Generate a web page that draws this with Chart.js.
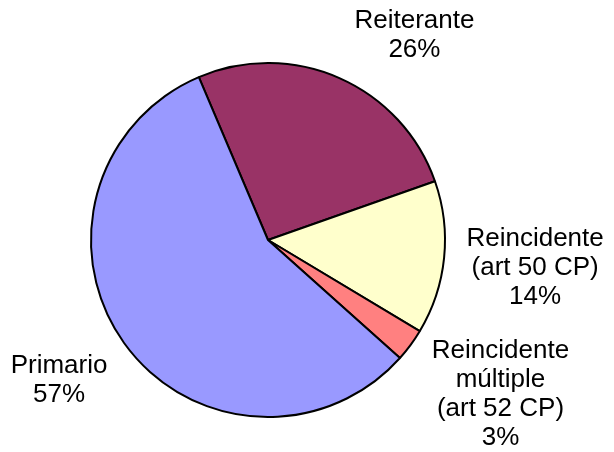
<!DOCTYPE html>
<html>
<head>
<meta charset="utf-8">
<script src="https://cdn.jsdelivr.net/npm/chart.js@4/dist/chart.umd.min.js"></script>
<style>
  html, body { margin: 0; padding: 0; background: #fff; }
</style>
</head>
<body>
<canvas id="chart" width="614" height="452"></canvas>
<script>
// datos
const categories = ['Reiterante', 'Reincidente (art 50 CP)', 'Reincidente múltiple (art 52 CP)', 'Primario'];
const values = [26, 14, 3, 57];
const labelLines = [
    ['Reiterante', '26%'],
    ['Reincidente', '(art 50 CP)', '14%'],
    ['Reincidente', 'múltiple', '(art 52 CP)', '3%'],
    ['Primario', '57%']
];
const colors = ['#993366', '#FFFFCC', '#FF8080', '#9999FF'];

// desplazamiento de cada etiqueta desde el punto medio del borde
const labelOffsets = [[75, -43], [91, 10], [90, 49], [-65, 37]];

const FONT = '26px "Liberation Sans", Arial, sans-serif';
const LINE_H = 29;

const outsideLabels = {
    id: 'outsideLabels',
    afterDraw(chart) {
        const ctx = chart.ctx;
        const meta = chart.getDatasetMeta(0);
        ctx.save();
        ctx.font = FONT;
        ctx.fillStyle = '#000';
        ctx.textAlign = 'center';
        ctx.textBaseline = 'middle';
        meta.data.forEach((arc, i) => {
            const mid = (arc.startAngle + arc.endAngle) / 2;
            const px = arc.x + Math.cos(mid) * arc.outerRadius + labelOffsets[i][0];
            const py = arc.y + Math.sin(mid) * arc.outerRadius + labelOffsets[i][1];
            const lines = labelLines[i];
            const top = py - (lines.length - 1) * LINE_H / 2;
            lines.forEach((t, k) => ctx.fillText(t, px, top + k * LINE_H));
        });
        ctx.restore();
    }
};

const ctx = document.getElementById('chart').getContext('2d');
new Chart(ctx, {
    type: 'pie',
    data: {
        labels: categories,
        datasets: [{
            data: values,
            backgroundColor: colors,
            borderColor: '#000',
            borderWidth: 2
        }]
    },
    options: {
        responsive: false,
        animation: false,
        rotation: -23,
        layout: {
            padding: { left: 90, right: 168, top: 62, bottom: 34 }
        },
        plugins: {
            legend: { display: false },
            tooltip: { enabled: false }
        }
    },
    plugins: [outsideLabels]
});
</script>
</body>
</html>
